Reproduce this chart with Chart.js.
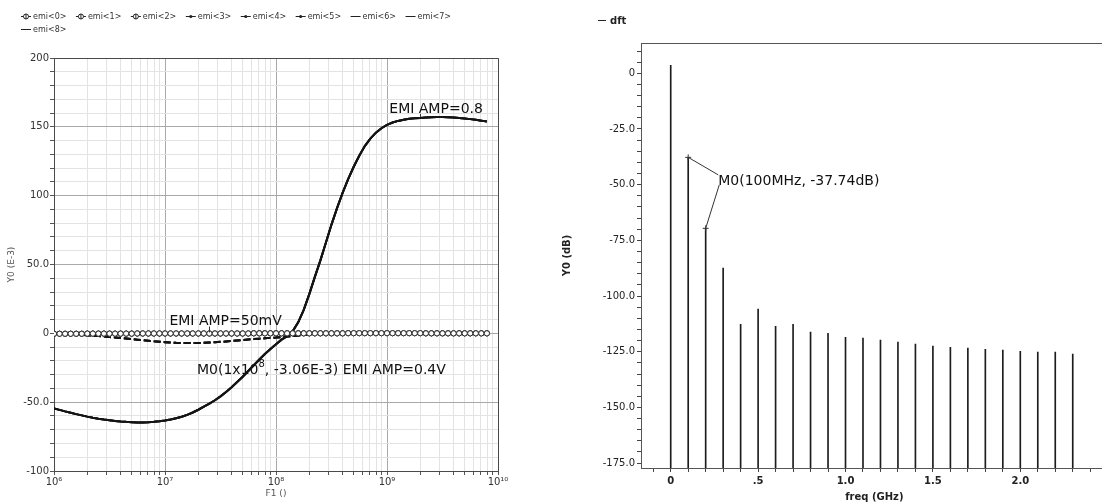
<!DOCTYPE html>
<html>
<head>
<meta charset="utf-8">
<title>EMI sweep and DFT</title>
<script src="https://cdn.jsdelivr.net/npm/chart.js@4.4.1/dist/chart.umd.min.js"></script>
<style>
  html, body { margin: 0; padding: 0; background: #ffffff; overflow: hidden; }
  body { width: 1102px; height: 504px; position: relative; }
  .panel { position: absolute; top: 0; height: 504px; }
  #emiPanel { left: 0; width: 560px; }
  #dftPanel { left: 560px; width: 560px; }
</style>
</head>
<body>
<div class="panel" id="emiPanel"><canvas id="emiChart"></canvas></div>
<div class="panel" id="dftPanel"><canvas id="dftChart"></canvas></div>
<script>
// ---------------- AC sweep: 20 points per decade ----------------
const sweepMantissa = [1.0, 1.122, 1.259, 1.413, 1.585, 1.778, 1.995, 2.239, 2.512, 2.818,
                       3.162, 3.548, 3.981, 4.467, 5.012, 5.623, 6.310, 7.079, 7.943, 8.913];
const sweepDecades = [1e6, 1e7, 1e8, 1e9];
const sweepCount = 79;
const emiFreq = sweepDecades.flatMap(d => sweepMantissa.map(m => m * d)).slice(0, sweepCount);

// Y0 in units of 1e-3
const emiAmp50m = [
  -0.3, -0.3, -0.3, -0.3, -0.3, -0.3, -0.2, -0.2, -0.2, -0.2,
  -0.2, -0.2, -0.2, -0.2, -0.2, -0.1, -0.1, -0.1, -0.1, -0.1,
  -0.1, -0.1, -0.1, -0.1, -0.1, -0.1, -0.1, -0.1, -0.1, -0.1,
  -0.1, -0.1, -0.1, -0.1, -0.1, -0.1, 0.0, 0.0, 0.0, 0.0,
  0.0, 0.0, 0.0, 0.0, 0.0, 0.0, 0.0, 0.0, 0.0, 0.0,
  0.0, 0.0, 0.0, 0.1, 0.1, 0.1, 0.1, 0.1, 0.1, 0.1,
  0.1, 0.1, 0.1, 0.1, 0.1, 0.1, 0.1, 0.0, 0.0, 0.0,
  0.0, 0.0, 0.0, 0.0, 0.0, 0.0, 0.0, 0.0, 0.0
];
const emiAmp04 = [
  -0.4, -0.5, -0.7, -0.8, -1.0, -1.2, -1.4, -1.7, -2.0, -2.3,
  -2.7, -3.0, -3.4, -3.8, -4.2, -4.6, -5.0, -5.4, -5.8, -6.1,
  -6.4, -6.7, -6.9, -7.0, -7.1, -7.1, -7.0, -6.9, -6.7, -6.5,
  -6.2, -5.9, -5.6, -5.2, -4.9, -4.5, -4.2, -3.9, -3.6, -3.3,
  -3.06, -2.7, -2.3, -1.9, -1.5, -1.1, -0.8, -0.5, -0.3, -0.1,
  0.1, 0.2, 0.3, 0.4, 0.5, 0.5, 0.6, 0.6, 0.6, 0.6,
  0.6, 0.6, 0.5, 0.5, 0.5, 0.4, 0.4, 0.3, 0.3, 0.2,
  0.2, 0.2, 0.1, 0.1, 0.1, 0.0, 0.0, 0.0, 0.0
];
const emiAmp08 = [
  -54.5, -55.6, -56.7, -57.7, -58.7, -59.6, -60.5, -61.3, -62.0, -62.6,
  -63.1, -63.6, -64.0, -64.3, -64.5, -64.7, -64.7, -64.6, -64.3, -63.9,
  -63.3, -62.6, -61.7, -60.6, -59.2, -57.5, -55.5, -53.3, -51.0, -48.6,
  -45.8, -42.6, -39.1, -35.4, -31.5, -27.4, -23.2, -19.0, -15.0, -11.3,
  -7.9, -4.6, -2.0, 1.5, 8.0, 17.0, 28.5, 41.0, 53.0, 66.0,
  79.0, 91.0, 102.0, 112.0, 121.0, 129.0, 136.0, 141.5, 145.8, 149.0,
  151.4, 153.1, 154.3, 155.2, 155.8, 156.2, 156.5, 156.8, 157.0, 157.1,
  157.1, 157.0, 156.8, 156.5, 156.1, 155.6, 155.1, 154.5, 153.8
];

const emiLabels = ['emi<0>', 'emi<1>', 'emi<2>', 'emi<3>', 'emi<4>', 'emi<5>', 'emi<6>', 'emi<7>', 'emi<8>'];
const emiYTickValues = [-100, -50, 0, 50, 100, 150, 200];
const emiYTickLabels = ['-100', '-50.0', '0', '50.0', '100', '150', '200'];
const emiXTickValues = [1e6, 1e7, 1e8, 1e9, 1e10];
const emiXTickLabels = ['10\u2076', '10\u2077', '10\u2078', '10\u2079', '10\u00b9\u2070'];

// ---------------- DFT spectrum ----------------
const dftFreqGHz = [0.0, 0.1, 0.2, 0.3, 0.4, 0.5, 0.6, 0.7, 0.8, 0.9, 1.0, 1.1,
                    1.2, 1.3, 1.4, 1.5, 1.6, 1.7, 1.8, 1.9, 2.0, 2.1, 2.2, 2.3];
const dftLevelDb = [3.6, -37.74, -69.6, -87.5, -112.7, -105.9, -113.6, -112.7, -116.2, -116.7, -118.5, -118.9,
                    -119.8, -120.7, -121.6, -122.5, -123.0, -123.4, -123.9, -124.3, -124.8, -125.2, -125.2, -126.1];
const dftYTickValues = [0, -25, -50, -75, -100, -125, -150, -175];
const dftYTickLabels = ['0', '-25.0', '-50.0', '-75.0', '-100.0', '-125.0', '-150.0', '-175.0'];
const dftXTickValues = [0, 0.5, 1.0, 1.5, 2.0];
const dftXTickLabels = ['0', '.5', '1.0', '1.5', '2.0'];

// ---------------- helpers ----------------
const FONT = '"DejaVu Sans", Verdana, sans-serif';
Chart.defaults.font.family = FONT;
Chart.defaults.color = '#333';
Chart.defaults.animation = false;

const toPoints = (xs, ys) => xs.map((x, i) => ({ x: x, y: ys[i] }));
const near = (a, b) => Math.abs(a - b) < 1e-6 * Math.max(1, Math.abs(b));
function lookupLabel(value, values, labels) {
  for (let i = 0; i < values.length; i++) if (near(value, values[i])) return labels[i];
  return '';
}

// draw a run of text pieces, some raised as superscripts
function drawRichText(ctx, pieces, x, y, size) {
  let cx = x;
  pieces.forEach(p => {
    ctx.font = (p.sup ? Math.round(size * 0.72) : size) + 'px ' + FONT;
    ctx.fillText(p.t, cx, p.sup ? y - size * 0.45 : y);
    cx += ctx.measureText(p.t).width;
  });
}

// ---------------- left chart: EMI sweep ----------------
const lineLook = {
  circle: { borderWidth: 1, borderDash: [], pointRadius: 2.6, pointStyle: 'circle',
            pointBackgroundColor: '#ffffff', pointBorderColor: '#222', pointBorderWidth: 0.9 },
  dot:    { borderWidth: 2, borderDash: [7, 3], pointRadius: 0 },
  solid:  { borderWidth: 2, borderDash: [], pointRadius: 0 }
};
const emiGroups = [
  { values: emiAmp50m, look: 'circle' }, { values: emiAmp50m, look: 'circle' }, { values: emiAmp50m, look: 'circle' },
  { values: emiAmp04, look: 'dot' }, { values: emiAmp04, look: 'dot' }, { values: emiAmp04, look: 'dot' },
  { values: emiAmp08, look: 'solid' }, { values: emiAmp08, look: 'solid' }, { values: emiAmp08, look: 'solid' }
];
const emiDatasets = emiGroups.map((g, i) => Object.assign({
  label: emiLabels[i],
  data: toPoints(emiFreq, g.values),
  borderColor: '#141414',
  tension: 0,
  fill: false,
  look: g.look
}, lineLook[g.look]));

const emiXGrid = [];
sweepDecades.forEach(d => [1, 2, 3, 4, 5, 6, 7, 8, 9].forEach(m => emiXGrid.push(m * d)));
emiXGrid.push(1e10);

const plotFrame = {
  id: 'plotFrame',
  beforeDatasetsDraw(chart, args, opts) {
    const { ctx, chartArea: a } = chart;
    ctx.save();
    ctx.strokeStyle = opts.color || '#444';
    ctx.lineWidth = 1;
    ctx.beginPath();
    if (opts.sides === 'top') {
      ctx.moveTo(a.left, Math.round(a.top) + 0.5);
      ctx.lineTo(a.right, Math.round(a.top) + 0.5);
    } else {
      ctx.rect(Math.round(a.left) + 0.5, Math.round(a.top) + 0.5,
               Math.round(a.right - a.left), Math.round(a.bottom - a.top));
    }
    ctx.stroke();
    ctx.restore();
  }
};

const emiLegend = {
  id: 'emiLegend',
  afterDraw(chart) {
    const ctx = chart.ctx;
    ctx.save();
    ctx.font = '8px ' + FONT;
    ctx.textBaseline = 'middle';
    let x = 21, y = 16;
    chart.data.datasets.forEach(ds => {
      const tw = ctx.measureText(ds.label).width;
      const w = 12 + tw;
      if (x + w > 470) { x = 21; y += 13; }
      ctx.strokeStyle = '#222';
      ctx.fillStyle = '#222';
      ctx.lineWidth = 1;
      ctx.beginPath(); ctx.moveTo(x, y + 0.5); ctx.lineTo(x + 10, y + 0.5); ctx.stroke();
      if (ds.look === 'circle') {
        ctx.beginPath(); ctx.fillStyle = '#fff';
        ctx.arc(x + 5, y + 0.5, 2.5, 0, Math.PI * 2); ctx.fill(); ctx.stroke();
        ctx.beginPath(); ctx.moveTo(x + 5, y - 2); ctx.lineTo(x + 5, y + 3); ctx.stroke();
      } else if (ds.look === 'dot') {
        ctx.beginPath(); ctx.arc(x + 5, y + 0.5, 1.6, 0, Math.PI * 2); ctx.fill();
      }
      ctx.fillStyle = '#333';
      ctx.fillText(ds.label, x + 12, y + 1);
      x += w + 9.5;
    });
    ctx.restore();
  }
};

const emiNotes = [
  { pieces: [{ t: 'EMI AMP=0.8' }], values: emiAmp08, index: 66, dx: -31, dy: -5, tick: [-1, -4] },
  { pieces: [{ t: 'EMI AMP=50mV' }], values: emiAmp50m, index: 28, dx: -40, dy: -8, tick: [-1, -7] },
  { pieces: [{ t: 'M0(1x10' }, { t: '8', sup: true }, { t: ', ' + emiAmp04[40].toFixed(2) + 'E-3) EMI AMP=0.4V' }],
    values: emiAmp04, index: 40, dx: -79, dy: 36, tick: null }
];
const emiNotePlugin = {
  id: 'emiNotes',
  afterDatasetsDraw(chart) {
    const { ctx, scales: { x, y } } = chart;
    ctx.save();
    ctx.fillStyle = '#111';
    ctx.strokeStyle = '#333';
    ctx.lineWidth = 1;
    ctx.textBaseline = 'alphabetic';
    emiNotes.forEach(n => {
      const px = x.getPixelForValue(emiFreq[n.index]);
      const py = y.getPixelForValue(n.values[n.index]);
      if (n.tick) {
        ctx.beginPath();
        ctx.moveTo(Math.round(px) + 0.5, py + n.tick[0]);
        ctx.lineTo(Math.round(px) + 0.5, py + n.tick[1]);
        ctx.stroke();
      }
      drawRichText(ctx, n.pieces, px + n.dx, py + n.dy, 14);
    });
    ctx.restore();
  }
};

new Chart(document.getElementById('emiChart'), {
  type: 'line',
  data: { datasets: emiDatasets },
  options: {
    responsive: true,
    maintainAspectRatio: false,
    layout: { padding: { left: 0, right: 62, top: 58, bottom: 0 } },
    plugins: { legend: { display: false }, tooltip: { enabled: false }, plotFrame: { color: '#4a4a4a' } },
    scales: {
      x: {
        type: 'logarithmic', min: 1e6, max: 1e10,
        afterBuildTicks: s => { s.ticks = emiXGrid.map(v => ({ value: v })); },
        afterFit: s => { s.height = 33; },
        ticks: {
          autoSkip: false, maxRotation: 0, padding: 1, color: '#333', font: { size: 10 },
          callback: v => lookupLabel(v, emiXTickValues, emiXTickLabels)
        },
        grid: {
          tickLength: 4,
          color: c => (c.tick && emiXTickValues.some(t => near(c.tick.value, t))) ? '#a9a9a9' : '#e3e3e3',
          tickColor: '#555'
        },
        border: { display: true, color: '#4a4a4a' },
        title: { display: true, text: 'F1 ()', color: '#555', font: { size: 9 }, padding: { top: 0, bottom: 5 } }
      },
      y: {
        type: 'linear', min: -100, max: 200,
        afterBuildTicks: s => {
          const t = [];
          for (let v = -100; v <= 200; v += 10) t.push({ value: v });
          s.ticks = t;
        },
        afterFit: s => { s.width = 54; },
        ticks: {
          autoSkip: false, padding: 1, color: '#333', font: { size: 10 },
          callback: v => lookupLabel(v, emiYTickValues, emiYTickLabels)
        },
        grid: {
          tickLength: 4,
          color: c => (c.tick && c.tick.value % 50 === 0) ? '#a9a9a9' : '#e3e3e3',
          tickColor: '#555'
        },
        border: { display: true, color: '#4a4a4a' },
        title: { display: true, text: 'Y0 (E-3)', color: '#555', font: { size: 9 }, padding: { top: 6, bottom: 0 } }
      }
    }
  },
  plugins: [plotFrame, emiNotePlugin, emiLegend]
});

// ---------------- right chart: DFT ----------------
const DFT_Y_MIN = -177.2, DFT_Y_MAX = 13.6;

const dftLegend = {
  id: 'dftLegend',
  afterDraw(chart) {
    const ctx = chart.ctx;
    ctx.save();
    ctx.strokeStyle = '#222'; ctx.lineWidth = 1;
    ctx.beginPath(); ctx.moveTo(38, 20.5); ctx.lineTo(46, 20.5); ctx.stroke();
    ctx.font = 'bold 10px ' + FONT;
    ctx.fillStyle = '#222';
    ctx.textBaseline = 'middle';
    ctx.fillText(chart.data.datasets[0].label, 50, 21);
    ctx.restore();
  }
};

const dftMarker = {
  id: 'dftMarker',
  afterDatasetsDraw(chart) {
    const { ctx, scales: { x, y } } = chart;
    const p1 = { x: x.getPixelForValue(dftFreqGHz[1]), y: y.getPixelForValue(dftLevelDb[1]) };
    const p2 = { x: x.getPixelForValue(dftFreqGHz[2]), y: y.getPixelForValue(dftLevelDb[2]) };
    const tx = x.getPixelForValue(0.272), ty = y.getPixelForValue(-48.3);
    ctx.save();
    ctx.strokeStyle = '#333'; ctx.lineWidth = 1;
    [p1, p2].forEach(p => {
      ctx.beginPath();
      ctx.moveTo(p.x - 3, p.y); ctx.lineTo(p.x + 3, p.y);
      ctx.moveTo(p.x, p.y - 3); ctx.lineTo(p.x, p.y + 3);
      ctx.stroke();
    });
    ctx.beginPath();
    ctx.moveTo(p1.x, p1.y); ctx.lineTo(tx, ty - 6);
    ctx.moveTo(tx + 1, ty + 4); ctx.lineTo(p2.x, p2.y);
    ctx.stroke();
    ctx.fillStyle = '#111';
    ctx.textBaseline = 'middle';
    drawRichText(ctx, [{ t: 'M0(100MHz, ' + dftLevelDb[1].toFixed(2) + 'dB)' }], tx, ty, 14);
    ctx.restore();
  }
};

new Chart(document.getElementById('dftChart'), {
  type: 'bar',
  data: {
    datasets: [{
      label: 'dft',
      data: toPoints(dftFreqGHz, dftLevelDb),
      base: DFT_Y_MIN,
      backgroundColor: '#1c1c1c',
      borderWidth: 0,
      barThickness: 1,
      grouped: false
    }]
  },
  options: {
    responsive: true,
    maintainAspectRatio: false,
    layout: { padding: { left: 0, right: 12.3, top: 43, bottom: 0 } },
    plugins: { legend: { display: false }, tooltip: { enabled: false }, plotFrame: { color: '#555', sides: 'top' } },
    scales: {
      x: {
        type: 'linear', min: -0.17, max: 2.5, offset: false,
        afterBuildTicks: s => {
          const t = [];
          for (let i = -1; i <= 25; i++) t.push({ value: i / 10 });
          s.ticks = t;
        },
        afterFit: s => { s.height = 36; },
        ticks: {
          autoSkip: false, maxRotation: 0, padding: 3, color: '#222', font: { size: 10, weight: 'bold' },
          callback: v => lookupLabel(v, dftXTickValues, dftXTickLabels)
        },
        grid: { offset: false, drawOnChartArea: false, tickLength: 4, tickColor: '#444' },
        border: { display: true, color: '#555' },
        title: { display: true, text: 'freq (GHz)', color: '#222', font: { size: 10, weight: 'bold' }, padding: { top: 0, bottom: 1 } }
      },
      y: {
        type: 'linear', min: DFT_Y_MIN, max: DFT_Y_MAX,
        afterBuildTicks: s => {
          const t = [];
          for (let v = -175; v <= 10; v += 5) t.push({ value: v });
          s.ticks = t;
        },
        afterFit: s => { s.width = 81; },
        ticks: {
          autoSkip: false, padding: 2, color: '#222', font: { size: 10 },
          callback: v => lookupLabel(v, dftYTickValues, dftYTickLabels)
        },
        grid: { drawOnChartArea: false, tickLength: 4, tickColor: '#444' },
        border: { display: true, color: '#555' },
        title: { display: true, text: 'Y0 (dB)', color: '#222', font: { size: 10, weight: 'bold' }, padding: { top: 1, bottom: 0 } }
      }
    }
  },
  plugins: [plotFrame, dftMarker, dftLegend]
});
</script>
</body>
</html>
